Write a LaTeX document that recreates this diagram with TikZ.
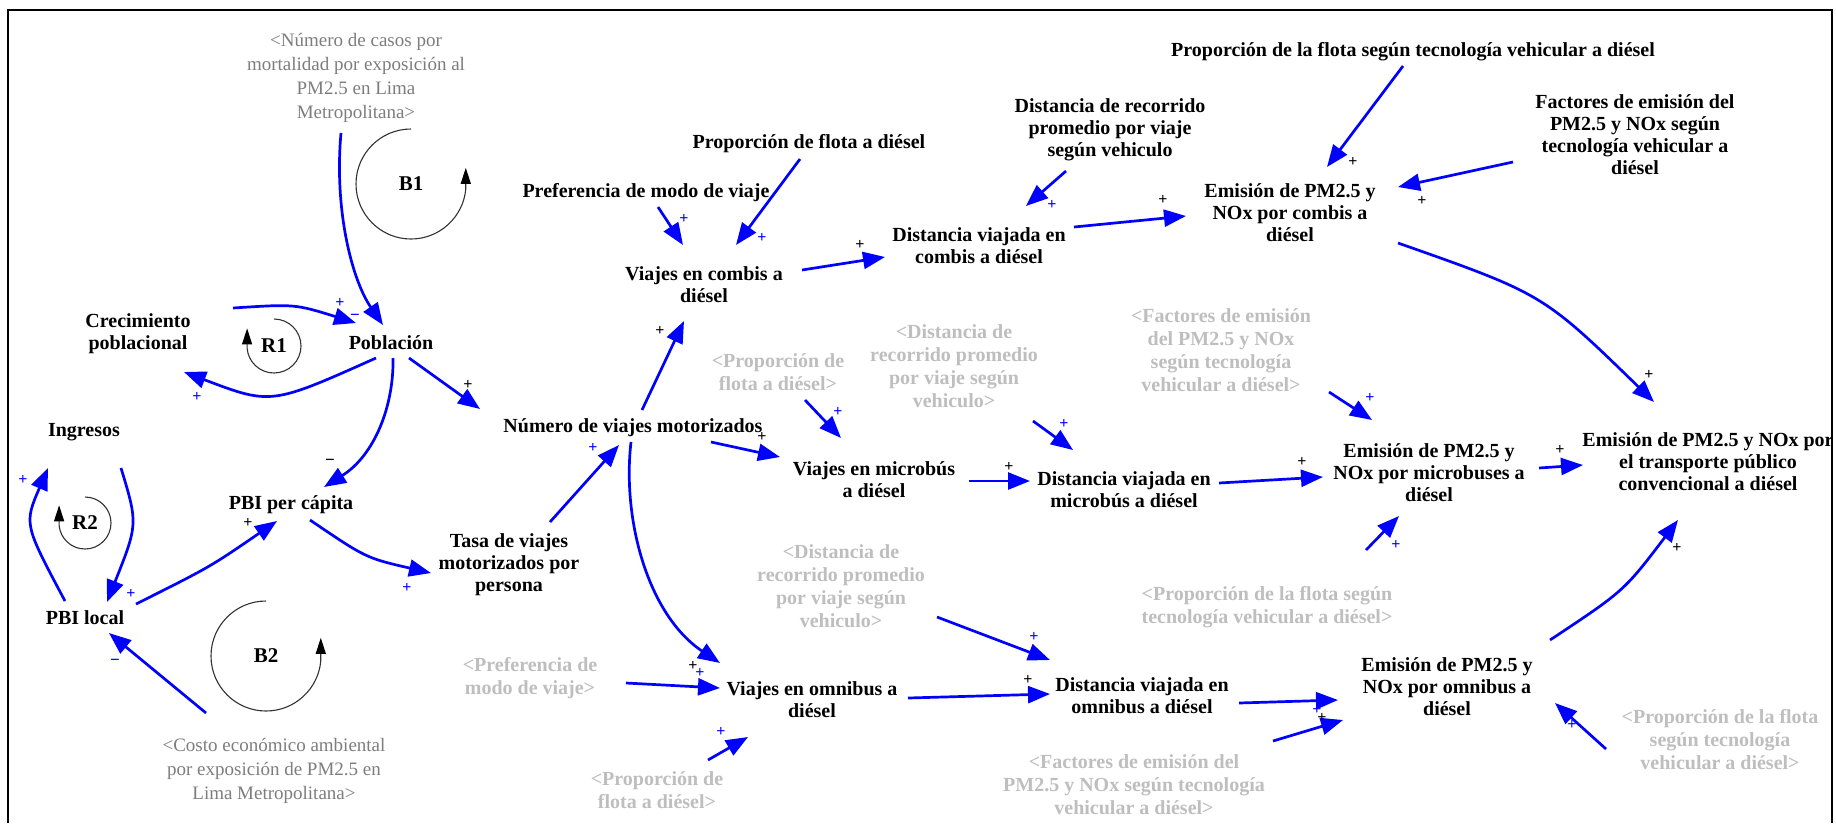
\documentclass[tikz,border=0pt]{standalone}
\usepackage{fontspec}
\setmainfont{Liberation Serif}
\usetikzlibrary{arrows.meta}
\definecolor{vblue}{RGB}{0,0,255}
\definecolor{midgray}{RGB}{125,125,125}
\definecolor{ltgray}{RGB}{190,190,190}
\definecolor{loopgray}{RGB}{50,50,50}
\begin{document}
\begin{tikzpicture}[x=1pt,y=-1pt,
  var/.style={font=\bfseries\fontsize{20}{22}\selectfont, align=center, inner sep=1pt},
  shadowv/.style={font=\bfseries\fontsize{20}{23}\selectfont, align=center, text=ltgray, inner sep=1pt},
  mshadow/.style={font=\fontsize{19}{24}\selectfont, align=center, text=midgray, inner sep=1pt},
  link/.style={draw=vblue, line width=2.7pt, -{Triangle[length=22pt,width=17pt]}},
  loopc/.style={draw=loopgray, line width=1.1pt, -{Triangle[length=16pt,width=10pt,color=black]}},
  looplbl/.style={font=\bfseries\fontsize{21}{21}\selectfont, inner sep=0pt},
  pb/.style={font=\bfseries\fontsize{16}{16}\selectfont, text=vblue, inner sep=0pt},
  pk/.style={font=\bfseries\fontsize{16}{16}\selectfont, text=black, inner sep=0pt},
  mb/.style={font=\bfseries\fontsize{17}{17}\selectfont, text=vblue, inner sep=0pt},
  mk/.style={font=\bfseries\fontsize{17}{17}\selectfont, text=black, inner sep=0pt},
]
\useasboundingbox (0,0) rectangle (1836,823);
% frame
\draw[line width=2.5pt] (8,823) -- (8,10) -- (1832,10) -- (1832,823);

% ---- black variables
\node[var] (pob) at (391,343) {Población};
\node[var] (crec) at (138,334) {Crecimiento\\poblacional};
\node[var] (ing) at (84,432) {Ingresos};
\node[var] (pbil) at (85,618) {PBI local};
\node[var] (pbipc) at (291,505) {PBI per cápita};
\node[var] (tasa) at (509,565) {Tasa de viajes\\motorizados por\\persona};
\node[var] (num) at (633,428) {Número de viajes motorizados};
\node[var] (pref) at (646,193) {Preferencia de modo de viaje};
\node[var] (propf) at (809,144) {Proporción de flota a diésel};
\node[var] (vcomb) at (704,285) {Viajes en combis a\\diésel};
\node[var] (drec) at (1110,130) {Distancia de recorrido\\promedio por viaje\\según vehiculo};
\node[var] (dcomb) at (979,246) {Distancia viajada en\\combis a diésel};
\node[var] (ptec) at (1413,52) {Proporción de la flota según tecnología vehicular a diésel};
\node[var] (fact) at (1635,135) {Factores de emisión del\\PM2.5 y NOx según\\tecnología vehicular a\\diésel};
\node[var] (ecomb) at (1290,213) {Emisión de PM2.5 y\\NOx por combis a\\diésel};
\node[var] (vmic) at (874,480) {Viajes en microbús\\a diésel};
\node[var] (dmic) at (1124,490) {Distancia viajada en\\microbús a diésel};
\node[var] (emic) at (1429,473) {Emisión de PM2.5 y\\NOx por microbuses a\\diésel};
\node[var] (etot) at (1708,462) {Emisión de PM2.5 y NOx por\\el transporte público\\convencional a diésel};
\node[var] (vomn) at (812,700) {Viajes en omnibus a\\diésel};
\node[var] (domn) at (1142,696) {Distancia viajada en\\omnibus a diésel};
\node[var] (eomn) at (1447,687) {Emisión de PM2.5 y\\NOx por omnibus a\\diésel};

% ---- shadow variables
\node[mshadow] (gmort) at (356,78) {<Número de casos por\\mortalidad por exposición al\\PM2.5 en Lima\\Metropolitana>};
\node[mshadow] (gcosto) at (274,771) {<Costo económico ambiental\\por exposición de PM2.5 en\\Lima Metropolitana>};
\node[shadowv] (gpf1) at (778,372) {<Proporción de\\flota a diésel>};
\node[shadowv] (gdr1) at (954,366) {<Distancia de\\recorrido promedio\\por viaje según\\vehiculo>};
\node[shadowv] (gfe1) at (1221,350) {<Factores de emisión\\del PM2.5 y NOx\\según tecnología\\vehicular a diésel>};
\node[shadowv] (gdr2) at (841,586) {<Distancia de\\recorrido promedio\\por viaje según\\vehiculo>};
\node[shadowv] (gpt1) at (1267,607) {<Proporción de la flota según\\tecnología vehicular a diésel>};
\node[shadowv] (gpm) at (530,678) {<Preferencia de\\modo de viaje>};
\node[shadowv] (gpf2) at (657,790) {<Proporción de\\flota a diésel>};
\node[shadowv] (gfe2) at (1134,785) {<Factores de emisión del\\PM2.5 y NOx según tecnología\\vehicular a diésel>};
\node[shadowv] (gpt2) at (1720,740) {<Proporción de la flota\\según tecnología\\vehicular a diésel>};

% ---- loops
\node[looplbl] (b1) at (411,184) {B1};
\node[looplbl] (r1) at (274,346) {R1};
\node[looplbl] (r2) at (85,523) {R2};
\node[looplbl] (b2) at (266,656) {B2};
\draw[loopc] ([shift={(0,-55)}]b1.center) arc[start angle=-90, end angle=-355, radius=55] -- ++(0,-21);
\draw[loopc] ([shift={(0,-55)}]b2.center) arc[start angle=-90, end angle=-355, radius=55] -- ++(0,-23);
\draw[loopc] ([shift={(0,-27)}]r1.center) arc[start angle=-90, end angle=175, radius=27] -- ++(0,-20);
\draw[loopc] ([shift={(0,-26)}]r2.center) arc[start angle=-90, end angle=175, radius=26] -- ++(0,-20);

% ---- links
\draw[link] ([shift={(-15,55)}]gmort.center) .. controls (334,210) and (352,280) .. ([shift={(-8,-18)}]pob.center);
\draw[link] ([shift={(95,-26)}]crec.center) .. controls (295,304) .. ([shift={(-35,-20)}]pob.center);
\draw[link] ([shift={(-15,15)}]pob.center) .. controls (271,405) .. ([shift={(46,38)}]crec.center);
\draw[link] ([shift={(18,15)}]pob.center) -- ([shift={(-153,-19)}]num.center);
\draw[link] ([shift={(2,15)}]pob.center) .. controls (394,405) and (375,455) .. ([shift={(33,-18)}]pbipc.center);
\draw[link] ([shift={(37,36)}]ing.center) .. controls (138,524) .. ([shift={(22,-16)}]pbil.center);
\draw[link] ([shift={(-20,-17)}]pbil.center) .. controls (24,524) .. ([shift={(-36,36)}]ing.center);
\draw[link] ([shift={(51,-14)}]pbil.center) .. controls (210,567) .. ([shift={(-14,16)}]pbipc.center);
\draw[link] ([shift={(19,15)}]pbipc.center) .. controls (366,558) .. ([shift={(-78,8)}]tasa.center);
\draw[link] ([shift={(41,-43)}]tasa.center) -- ([shift={(-14,17)}]num.center);
\draw[link] ([shift={(-68,-58)}]gcosto.center) -- ([shift={(24,15)}]pbil.center);
\draw[link] ([shift={(12,14)}]pref.center) -- ([shift={(-21,-40)}]vcomb.center);
\draw[link] ([shift={(-9,15)}]propf.center) -- ([shift={(32,-40)}]vcomb.center);
\draw[link] ([shift={(98,-15)}]vcomb.center) -- ([shift={(-94,11)}]dcomb.center);
\draw[link] ([shift={(9,-18)}]num.center) -- ([shift={(-20,36)}]vcomb.center);
\draw[link] ([shift={(-44,41)}]drec.center) -- ([shift={(47,-40)}]dcomb.center);
\draw[link] ([shift={(-10,14)}]ptec.center) -- ([shift={(37,-46)}]ecomb.center);
\draw[link] ([shift={(-122,27)}]fact.center) -- ([shift={(108,-26)}]ecomb.center);
\draw[link] ([shift={(95,-19)}]dcomb.center) -- ([shift={(-104,3)}]ecomb.center);
\draw[link] ([shift={(108,30)}]ecomb.center) .. controls (1543,294) .. ([shift={(-54,-60)}]etot.center);
\draw[link] ([shift={(27,28)}]gpf1.center) -- ([shift={(-33,-42)}]vmic.center);
\draw[link] ([shift={(78,14)}]num.center) -- ([shift={(-94,-23)}]vmic.center);
\draw[link] ([shift={(95,1)}]vmic.center) -- ([shift={(-94,-9)}]dmic.center);
\draw[link] ([shift={(79,55)}]gdr1.center) -- ([shift={(-51,-40)}]dmic.center);
\draw[link] ([shift={(95,-7)}]dmic.center) -- ([shift={(-106,4)}]emic.center);
\draw[link] ([shift={(108,42)}]gfe1.center) -- ([shift={(-57,-53)}]emic.center);
\draw[link] ([shift={(99,-57)}]gpt1.center) -- ([shift={(-30,43)}]emic.center);
\draw[link] ([shift={(110,-5)}]emic.center) -- ([shift={(-125,3)}]etot.center);
\draw[link] ([shift={(-2,14)}]num.center) .. controls (622,520) and (648,615) .. ([shift={(-92,-37)}]vomn.center);
\draw[link] ([shift={(96,5)}]gpm.center) -- ([shift={(-92,-12)}]vomn.center);
\draw[link] ([shift={(51,-30)}]gpf2.center) -- ([shift={(-64,37)}]vomn.center);
\draw[link] ([shift={(96,31)}]gdr2.center) -- ([shift={(-92,-36)}]domn.center);
\draw[link] ([shift={(96,-2)}]vomn.center) -- ([shift={(-92,-2)}]domn.center);
\draw[link] ([shift={(97,7)}]domn.center) -- ([shift={(-109,13)}]eomn.center);
\draw[link] ([shift={(139,-44)}]gfe2.center) -- ([shift={(-104,33)}]eomn.center);
\draw[link] ([shift={(-114,9)}]gpt2.center) -- ([shift={(108,16)}]eomn.center);
\draw[link] ([shift={(103,-47)}]eomn.center) .. controls (1624,591) .. ([shift={(-30,58)}]etot.center);

% ---- polarities
\node[mb] (s1) at (355,317) {−};
\node[pb] (s2) at (340,303) {+};
\node[pb] (s3) at (197,397) {+};
\node[pk] (s4) at (468,385) {+};
\node[mk] (s5) at (330,462) {−};
\node[pb] (s6) at (131,594) {+};
\node[pb] (s7) at (23,480) {+};
\node[pk] (s8) at (248,523) {+};
\node[pb] (s9) at (407,588) {+};
\node[pb] (s10) at (593,448) {+};
\node[mb] (s11) at (115,662) {−};
\node[pb] (s12) at (684,219) {+};
\node[pb] (s13) at (762,238) {+};
\node[pk] (s14) at (860,245) {+};
\node[pk] (s15) at (660,331) {+};
\node[pb] (s16) at (1052,205) {+};
\node[pk] (s17) at (1353,162) {+};
\node[pk] (s18) at (1422,201) {+};
\node[pk] (s19) at (1163,200) {+};
\node[pk] (s20) at (1649,375) {+};
\node[pb] (s21) at (838,412) {+};
\node[pk] (s22) at (762,437) {+};
\node[pk] (s23) at (1009,467) {+};
\node[pb] (s24) at (1064,424) {+};
\node[pk] (s25) at (1302,462) {+};
\node[pb] (s26) at (1370,398) {+};
\node[pb] (s27) at (1396,545) {+};
\node[pk] (s28) at (1560,450) {+};
\node[pk] (s29) at (693,666) {+};
\node[pb] (s30) at (700,673) {+};
\node[pb] (s31) at (721,732) {+};
\node[pb] (s32) at (1034,637) {+};
\node[pk] (s33) at (1028,680) {+};
\node[pb] (s34) at (1317,710) {+};
\node[pk] (s35) at (1322,718) {+};
\node[pb] (s36) at (1572,725) {+};
\node[pk] (s37) at (1677,548) {+};
\end{tikzpicture}
\end{document}
